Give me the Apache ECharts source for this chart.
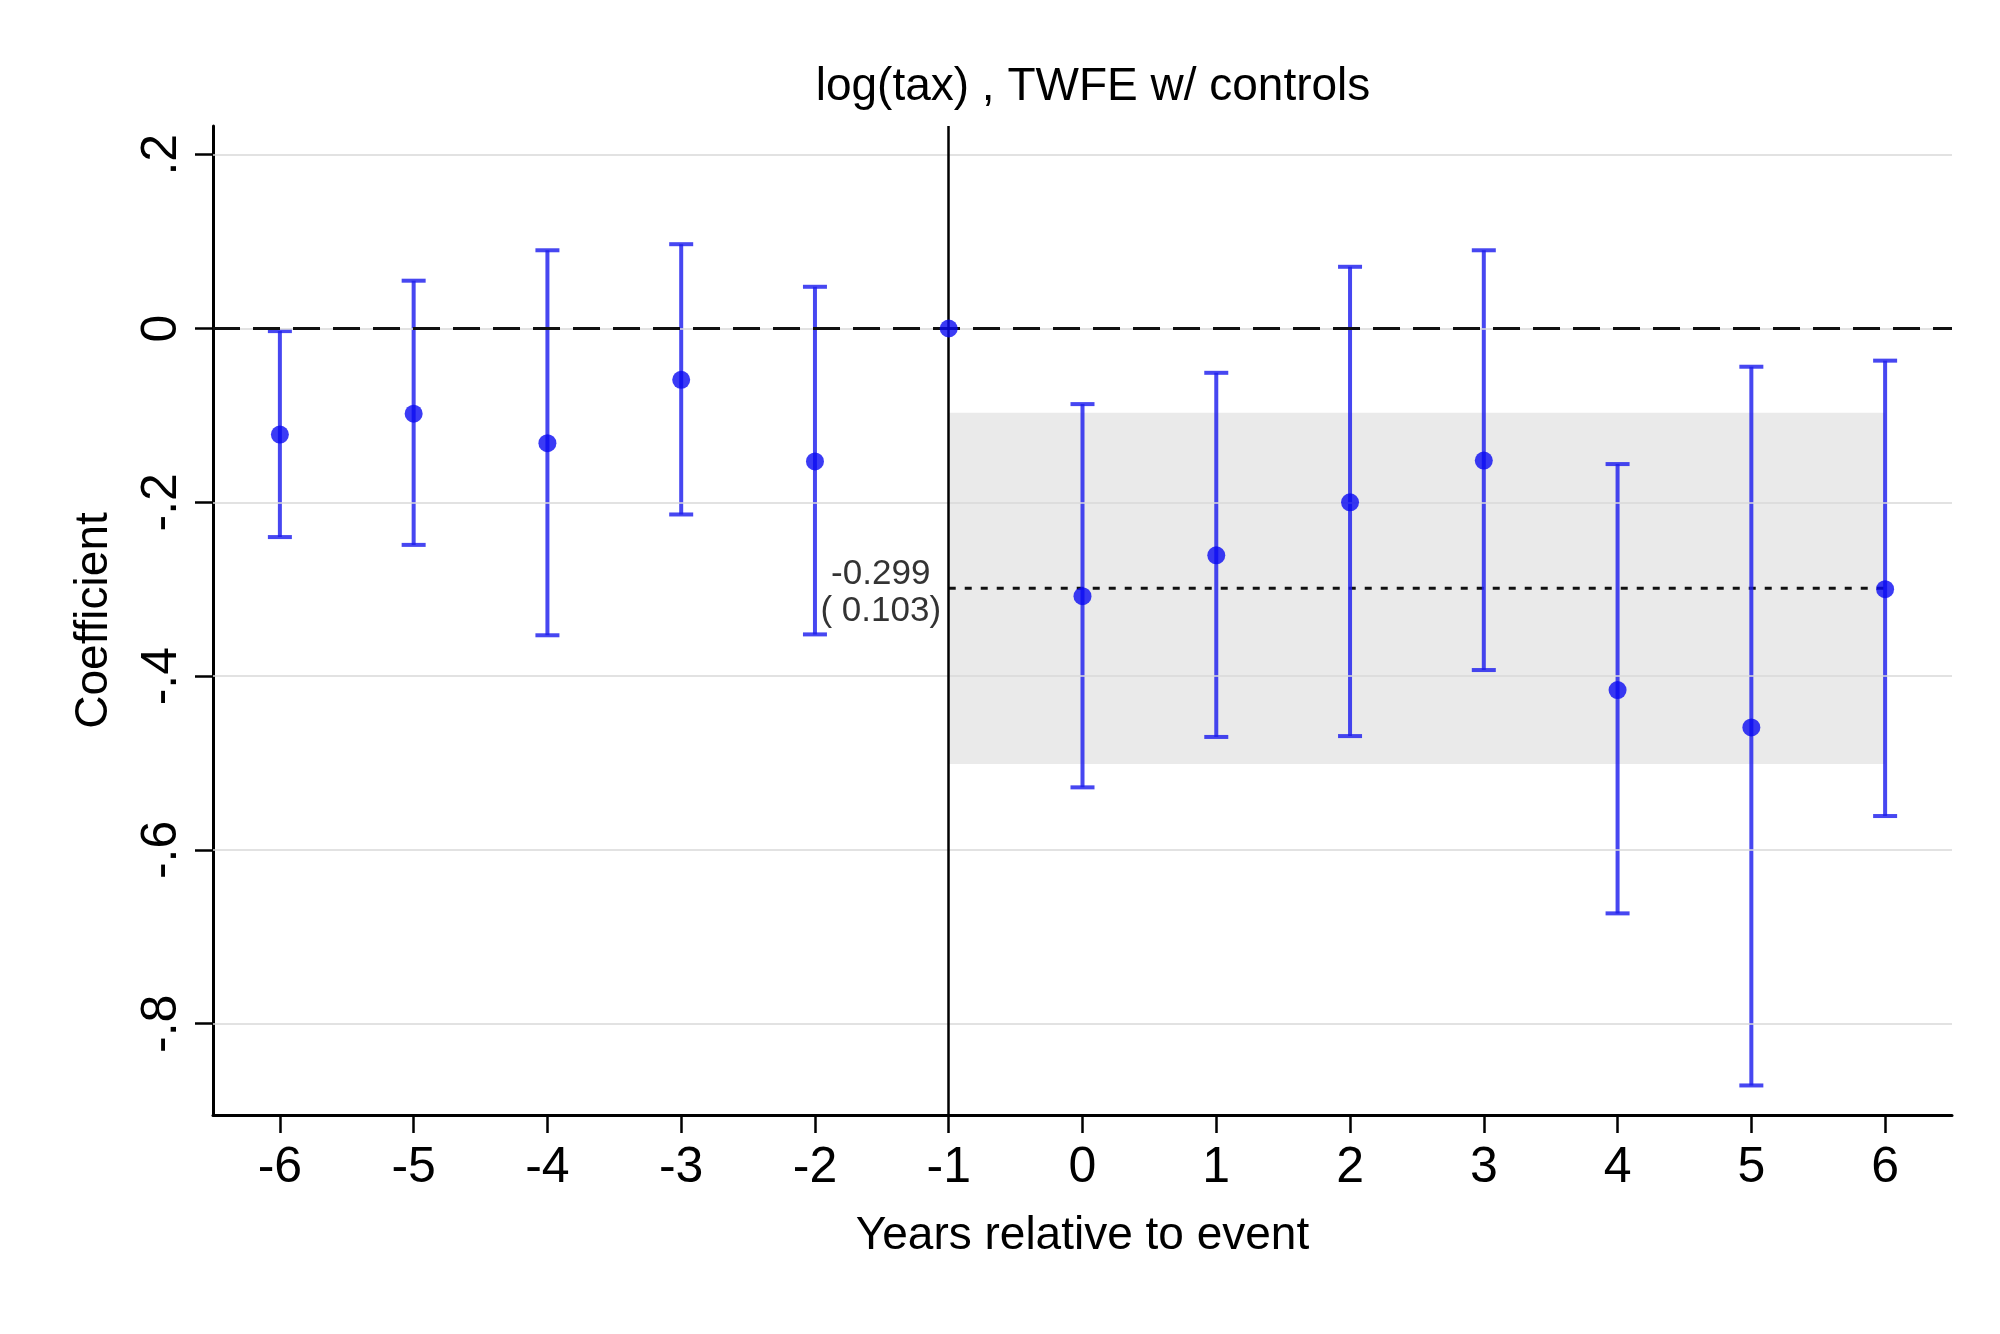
<!DOCTYPE html>
<html>
<head>
<meta charset="utf-8">
<script src="https://cdn.jsdelivr.net/npm/echarts@6/dist/echarts.min.js"></script>
<style>
  html, body { margin: 0; padding: 0; background: #ffffff; }
  #chart { width: 2000px; height: 1334px; }
</style>
</head>
<body>
<div id="chart"></div>
<script>
// ---- Data ----
const years  = [-6, -5, -4, -3, -2, -1, 0, 1, 2, 3, 4, 5, 6];
const coef   = [-0.122, -0.098, -0.132, -0.059, -0.153, 0, -0.308, -0.261, -0.200, -0.152, -0.416, -0.459, -0.300];
const ciLow  = [-0.240, -0.249, -0.353, -0.214, -0.352, null, -0.528, -0.470, -0.469, -0.393, -0.673, -0.871, -0.561];
const ciHigh = [-0.003, 0.055, 0.090, 0.097, 0.048, null, -0.087, -0.051, 0.071, 0.090, -0.156, -0.044, -0.037];

const xTicks = [-6, -5, -4, -3, -2, -1, 0, 1, 2, 3, 4, 5, 6];
const yTicks = [-0.8, -0.6, -0.4, -0.2, 0, 0.2];

const pooledEst = -0.299;
const pooledSE = 0.103;
const bandX = [-1, 6];
const bandY = [-0.097, -0.501];
const eventYear = -1;

const titleText = 'log(tax) , TWFE w/ controls';
const xName = 'Years relative to event';
const yName = 'Coefficient';

// ---- Chart ----
const FONT = 'Liberation Sans, Arial, Helvetica, sans-serif';
const barColor = 'rgba(30,30,238,0.82)';
const dotColor = '#0a0af2';

function fmtY(v) {
  const n = Math.round(v * 10) / 10;
  if (n === 0) return '0';
  const s = Math.abs(n).toFixed(1).replace(/^0/, '');
  return (n < 0 ? '-' : '') + s;
}

const errData = [];
years.forEach((x, i) => { if (ciLow[i] !== null) errData.push([x, ciLow[i], ciHigh[i]]); });
const ptData = years.map((x, i) => [x, coef[i]]);

const chart = echarts.init(document.getElementById('chart'), null, { renderer: 'canvas' });

const option = {
  backgroundColor: '#ffffff',
  animation: false,
  title: {
    text: titleText,
    left: 1088,
    top: 59,
    textAlign: 'center',
    textStyle: { fontFamily: FONT, fontSize: 46, fontWeight: 'normal', color: '#000' }
  },
  grid: { left: 213, right: 48, top: 126, bottom: 219, containLabel: false },
  xAxis: {
    type: 'value',
    min: -6.5,
    max: 6.5,
    name: xName,
    nameLocation: 'middle',
    nameGap: 98,
    nameTextStyle: { fontFamily: FONT, fontSize: 46, color: '#000' },
    axisLine: { show: true, onZero: false, lineStyle: { color: '#000', width: 3 } },
    axisTick: { show: true, customValues: xTicks, length: 18, lineStyle: { color: '#000', width: 2.5 } },
    axisLabel: { customValues: xTicks, margin: 28, fontFamily: FONT, fontSize: 50, color: '#000',
                 formatter: v => String(v) },
    splitLine: { show: false }
  },
  yAxis: {
    type: 'value',
    min: -0.905,
    max: 0.233,
    name: yName,
    nameLocation: 'middle',
    nameRotate: 90,
    nameGap: 96,
    nameTextStyle: { fontFamily: FONT, fontSize: 46, color: '#000' },
    axisLine: { show: true, onZero: false, lineStyle: { color: '#000', width: 3 } },
    axisTick: { show: true, customValues: yTicks, length: 18, lineStyle: { color: '#000', width: 2.5 } },
    axisLabel: { customValues: yTicks, rotate: 90, margin: 26, fontFamily: FONT, fontSize: 50, color: '#000',
                 formatter: v => fmtY(v) },
    splitLine: { show: false }
  },
  series: [
    { // shaded band for pooled estimate CI
      type: 'line', data: [], z: 1, silent: true,
      markArea: {
        silent: true,
        itemStyle: { color: '#eaeaea' },
        data: [[{ xAxis: bandX[0], yAxis: bandY[0] }, { xAxis: bandX[1], yAxis: bandY[1] }]]
      }
    },
    { // grid lines
      type: 'line', data: [], z: 2, silent: true,
      markLine: {
        silent: true, symbol: 'none', label: { show: false },
        lineStyle: { color: '#d8d8d8', width: 1.5, type: 'solid' },
        data: yTicks.map(v => ({ yAxis: v }))
      }
    },
    { // zero dashed line + vertical event line
      type: 'line', data: [], z: 3, silent: true,
      markLine: {
        silent: true, symbol: 'none', label: { show: false },
        data: [
          { yAxis: 0, lineStyle: { color: '#111', width: 3, type: [27, 13] } },
          { xAxis: eventYear, lineStyle: { color: '#000', width: 2.5, type: 'solid' } }
        ]
      }
    },
    { // dotted pooled estimate line
      type: 'line', z: 3, silent: true, showSymbol: false,
      data: [[bandX[0], pooledEst], [bandX[1], pooledEst]],
      lineStyle: { color: '#111', width: 3, type: [7, 9] }
    },
    { // error bars
      type: 'custom', z: 4, silent: true,
      data: errData,
      renderItem: function (params, api) {
        const x = api.value(0), lo = api.value(1), hi = api.value(2);
        const pLo = api.coord([x, lo]);
        const pHi = api.coord([x, hi]);
        const hw = 12;
        return {
          type: 'group',
          children: [
            { type: 'line', shape: { x1: pLo[0], y1: pLo[1], x2: pHi[0], y2: pHi[1] }, style: { stroke: barColor, lineWidth: 4 } },
            { type: 'line', shape: { x1: pLo[0] - hw, y1: pLo[1], x2: pLo[0] + hw, y2: pLo[1] }, style: { stroke: barColor, lineWidth: 4 } },
            { type: 'line', shape: { x1: pHi[0] - hw, y1: pHi[1], x2: pHi[0] + hw, y2: pHi[1] }, style: { stroke: barColor, lineWidth: 4 } }
          ]
        };
      }
    },
    { // point estimates
      type: 'scatter', z: 5, silent: true,
      data: ptData,
      symbol: 'circle', symbolSize: 18,
      itemStyle: { color: dotColor }
    },
    { // annotation of pooled estimate
      type: 'scatter', z: 6, silent: true,
      data: [[bandX[0], pooledEst]],
      symbolSize: 1,
      itemStyle: { color: 'rgba(0,0,0,0)' },
      label: {
        show: true, position: 'inside', offset: [-68, 4],
        align: 'center', verticalAlign: 'middle',
        fontFamily: FONT, fontSize: 35, lineHeight: 37, color: '#000',
        textBorderWidth: 0,
        formatter: () => pooledEst.toFixed(3) + '\n( ' + pooledSE.toFixed(3) + ')'
      }
    }
  ]
};

chart.setOption(option);
</script>
</body>
</html>
